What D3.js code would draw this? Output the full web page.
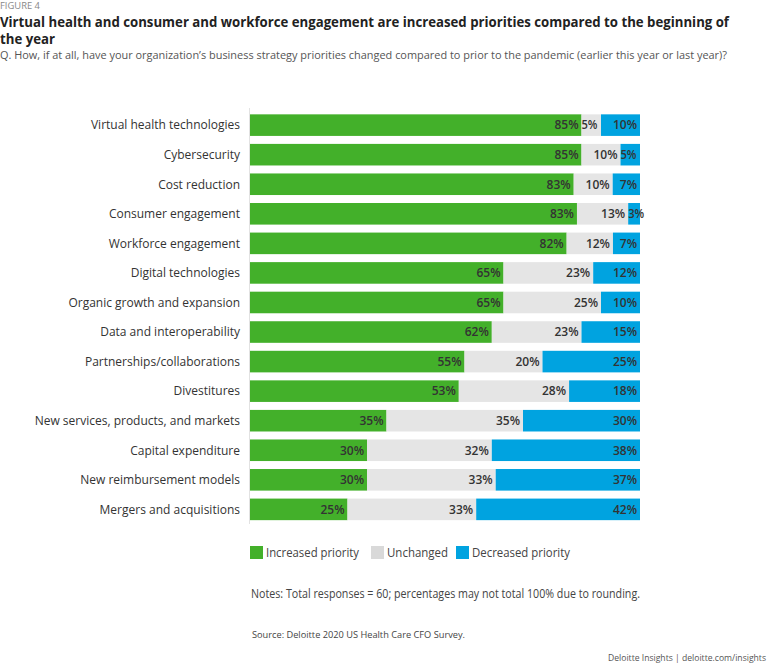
<!DOCTYPE html>
<html><head><meta charset="utf-8">
<script src="https://cdn.jsdelivr.net/npm/d3@7"></script>
<style>body{margin:0;background:#fff;font-family:"Open Sans",sans-serif;}</style>
</head><body>
<svg id="c" width="768" height="672"></svg>
<script>
const categories = ["Virtual health technologies","Cybersecurity","Cost reduction","Consumer engagement","Workforce engagement","Digital technologies","Organic growth and expansion","Data and interoperability","Partnerships/collaborations","Divestitures","New services, products, and markets","Capital expenditure","New reimbursement models","Mergers and acquisitions"];
const increased = [85,85,83,83,82,65,65,62,55,53,35,30,30,25];
const unchanged = [5,10,10,13,12,23,25,23,20,28,35,32,33,33];
const decreased = [10,5,7,3,7,12,10,15,25,18,30,38,37,42];
const seriesNames = ["Increased priority","Unchanged","Decreased priority"];
const colors = ["#43b02a","#e5e5e5","#00a3e0"];

const svg = d3.select("#c");
const font = "'Open Sans', sans-serif";

function txt(x,yy,s,size,fill,opts={}){
  const t = svg.append("text").attr("x",x).attr("y",yy).attr("font-size",size).attr("fill",fill).attr("font-family",font).text(s);
  if(opts.weight) t.attr("font-weight",opts.weight);
  if(opts.anchor) t.attr("text-anchor",opts.anchor);
  if(opts.len) t.attr("textLength",opts.len).attr("lengthAdjust","spacingAndGlyphs");
  if(opts.dy) t.attr("dy",opts.dy);
  return t;
}

txt(0,9,"FIGURE 4",8.5,"#888",{len:40});
txt(0,27,"Virtual health and consumer and workforce engagement are increased priorities compared to the beginning of",14.2,"#222",{weight:700,len:729});
txt(0,44,"the year",14.2,"#222",{weight:700,len:55});
txt(0,59,"Q. How, if at all, have your organization\u2019s business strategy priorities changed compared to prior to the pandemic (earlier this year or last year)?",10.8,"#555",{len:727});

const x0 = 250, x1 = 640;
const y = d3.scaleBand().domain(categories).range([110.5, 524]).paddingInner(0.27).paddingOuter(0.13);

svg.append("line").attr("x1",249.5).attr("x2",249.5).attr("y1",108).attr("y2",524).attr("stroke","#e2e2e2").attr("stroke-width",1);

const rows = categories.map((c,i)=>({c, vals:[increased[i],unchanged[i],decreased[i]]}));
rows.forEach(r=>{
  const total = d3.sum(r.vals);
  const x = d3.scaleLinear().domain([0,total]).range([x0,x1]);
  let acc = 0;
  const g = svg.append("g");
  r.vals.forEach((v,j)=>{
    const a = x(acc), b = x(acc+v);
    g.append("rect").attr("x",a).attr("y",y(r.c)).attr("width",b-a).attr("height",y.bandwidth()).attr("fill",colors[j]);
    const small = (b-a) < 20;
    g.append("text").attr("x",small ? a : b-3).attr("y",y(r.c)+y.bandwidth()/2).attr("dy","0.36em")
      .attr("text-anchor",small ? "start" : "end")
      .attr("font-size",12).attr("font-weight",600).attr("fill","#333").attr("font-family",font)
      .attr("textLength", small ? 16 : null).attr("lengthAdjust","spacingAndGlyphs")
      .text(v+"%");
    acc += v;
  });
});

svg.append("g").selectAll("text").data(categories).join("text")
  .attr("x",240).attr("y",d=>y(d)+y.bandwidth()/2).attr("dy","0.36em").attr("text-anchor","end")
  .attr("font-size",12).attr("fill","#333").attr("font-family",font).text(d=>d);

const legX = [250,371,456];
const legLen = [93,61,98];
seriesNames.forEach((s,i)=>{
  svg.append("rect").attr("x",legX[i]).attr("y",546).attr("width",13).attr("height",13).attr("fill",i===1?"#d9d9d9":colors[i]);
  txt(legX[i]+16,553,s,12.3,"#444",{dy:"0.36em",len:legLen[i]});
});

txt(251,598,"Notes: Total responses = 60; percentages may not total 100% due to rounding.",12.3,"#444",{len:389});
txt(252,638,"Source: Deloitte 2020 US Health Care CFO Survey.",9.8,"#444",{len:213});
txt(766,661,"Deloitte Insights | deloitte.com/insights",9.5,"#555",{anchor:"end",len:158});
</script>
</body></html>
